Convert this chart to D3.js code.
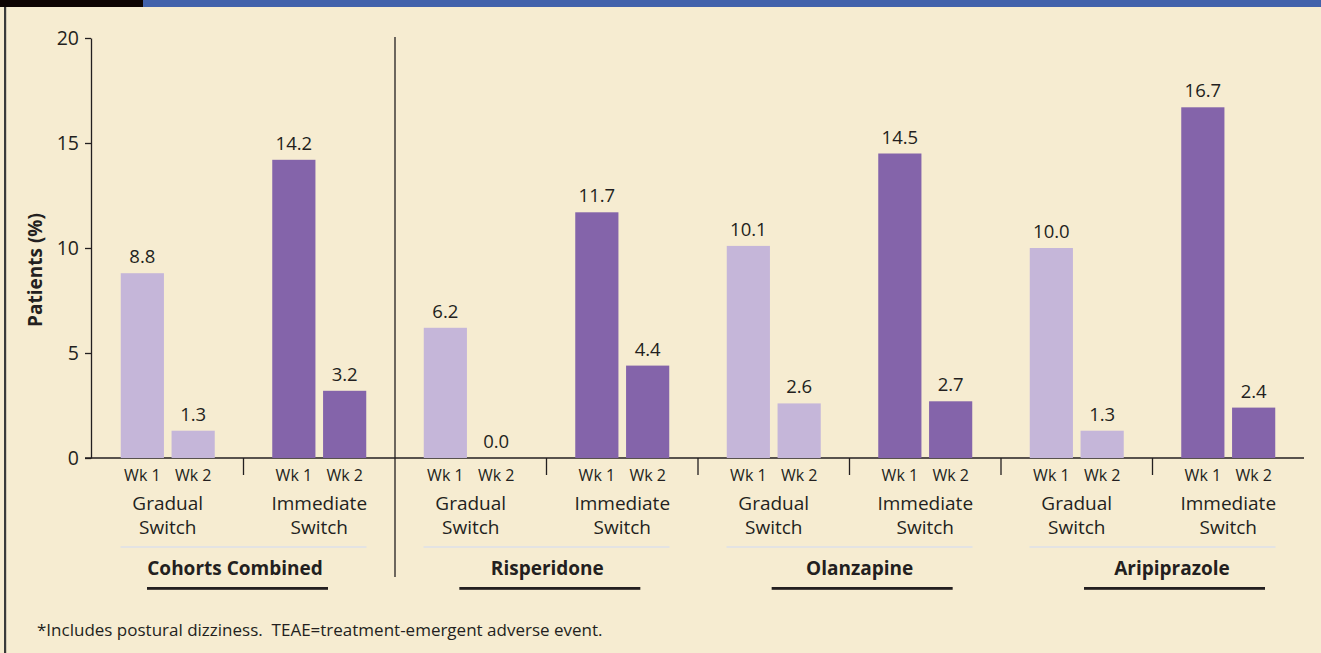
<!DOCTYPE html>
<html>
<head>
<meta charset="utf-8">
<script src="https://cdn.jsdelivr.net/npm/d3@7"></script>
<style>
  html, body { margin: 0; padding: 0; background: #f6ecd1; }
  svg { display: block; }
  text { font-family: "Open Sans", "Noto Sans", sans-serif; fill: #231f20; }
</style>
</head>
<body>
<svg id="chart" width="1321" height="653"></svg>
<script>
// ---- Data ----
const groups = ["Cohorts Combined", "Risperidone", "Olanzapine", "Aripiprazole"];
const switchTypes = ["Gradual", "Immediate"];
const switchLabels = [["Gradual", "Switch"], ["Immediate", "Switch"]];
const weeks = ["Wk 1", "Wk 2"];
const gradualWk1 = [8.8, 6.2, 10.1, 10.0];
const gradualWk2 = [1.3, 0.0, 2.6, 1.3];
const immediateWk1 = [14.2, 11.7, 14.5, 16.7];
const immediateWk2 = [3.2, 4.4, 2.7, 2.4];
const yTicks = [0, 5, 10, 15, 20];
const yLabel = "Patients (%)";
const footnote = "*Includes postural dizziness.  TEAE=treatment-emergent adverse event.";

// ---- Build table ----
const subgroups = [];
groups.forEach((g, gi) => {
  switchTypes.forEach((s, si) => {
    const vals = s === "Gradual" ? [gradualWk1[gi], gradualWk2[gi]] : [immediateWk1[gi], immediateWk2[gi]];
    subgroups.push({ key: g + "|" + s, group: g, gi, si, type: s, values: weeks.map((w, wi) => ({ week: w, value: vals[wi], type: s })) });
  });
});

const svg = d3.select("#chart");
const W = 1321, H = 653;

// background
svg.append("rect").attr("width", W).attr("height", H).attr("fill", "#f6ecd1");
// top bars
svg.append("rect").attr("x", 0).attr("y", 0).attr("width", 143).attr("height", 7).attr("fill", "#0e0503");
svg.append("rect").attr("x", 143).attr("y", 0).attr("width", W - 143).attr("height", 7).attr("fill", "#4262ab");
// left border
svg.append("rect").attr("x", 4).attr("y", 7).attr("width", 2.2).attr("height", H - 7).attr("fill", "#3a3a3a");

// ---- Scales ----
const y = d3.scaleLinear().domain([0, 20]).range([458, 38]);
const x0 = d3.scaleBand().domain(subgroups.map(d => d.key)).range([92, 1304]);
const x1 = d3.scaleBand().domain(weeks).range([-47, 47]).paddingInner(0.15);
const color = d3.scaleOrdinal().domain(switchTypes).range(["#c5b6d9", "#8464aa"]);
const center = k => x0(k) + x0.bandwidth() / 2;

// ---- Y axis ----
const yAxis = d3.axisLeft(y).tickValues(yTicks).tickSize(6).tickSizeOuter(0).tickPadding(6);
const gy = svg.append("g").attr("transform", "translate(91,0)").call(yAxis);
gy.select(".domain").attr("stroke", "#231f20").attr("stroke-width", 1.3);
gy.selectAll(".tick line").attr("stroke", "#231f20").attr("stroke-width", 1.3);
gy.selectAll(".tick text").attr("font-size", 19.5).attr("font-family", "Open Sans").attr("fill", "#231f20");

svg.append("text")
  .attr("transform", "translate(42,270) rotate(-90)")
  .attr("text-anchor", "middle")
  .attr("font-size", 19).attr("font-weight", "bold")
  .text(yLabel);

// ---- X axis line ----
svg.append("line").attr("x1", 85).attr("x2", x0.range()[1]).attr("y1", y(0)).attr("y2", y(0))
  .attr("stroke", "#231f20").attr("stroke-width", 1.3);

// boundary ticks
const boundaries = subgroups.slice(1).map((d, i) => ({ x: x0(d.key), idx: i + 1 }));
boundaries.forEach(b => {
  if (b.idx === 2) {
    svg.append("line").attr("x1", b.x).attr("x2", b.x).attr("y1", y(20) - 1).attr("y2", 577)
      .attr("stroke", "#231f20").attr("stroke-width", 1.3);
  } else {
    svg.append("line").attr("x1", b.x).attr("x2", b.x).attr("y1", y(0)).attr("y2", 475)
      .attr("stroke", "#231f20").attr("stroke-width", 1.3);
  }
});

// ---- Bars ----
const sg = svg.selectAll("g.sub").data(subgroups).join("g")
  .attr("class", "sub")
  .attr("transform", d => `translate(${center(d.key)},0)`);

sg.selectAll("rect").data(d => d.values).join("rect")
  .attr("x", d => x1(d.week))
  .attr("width", x1.bandwidth())
  .attr("y", d => y(d.value))
  .attr("height", d => y(0) - y(d.value))
  .attr("fill", d => color(d.type));

sg.selectAll("text.val").data(d => d.values).join("text")
  .attr("class", "val")
  .attr("x", d => x1(d.week) + x1.bandwidth() / 2)
  .attr("y", d => y(d.value) - 10)
  .attr("text-anchor", "middle")
  .attr("font-size", 18.5)
  .text(d => d3.format(".1f")(d.value));

sg.selectAll("text.wk").data(d => d.values).join("text")
  .attr("class", "wk")
  .attr("x", d => x1(d.week) + x1.bandwidth() / 2)
  .attr("y", 481)
  .attr("text-anchor", "middle")
  .attr("font-size", 16)
  .text(d => d.week);

sg.each(function(d) {
  const g = d3.select(this);
  switchLabels[d.si].forEach((line, li) => {
    g.append("text").attr("x", 0).attr("y", 510 + li * 24)
      .attr("text-anchor", "middle").attr("font-size", 19).text(line);
  });
});

// ---- Group labels ----
const titleX = d3.scaleLinear().domain([0, groups.length - 1]).range([235, 1172]);
groups.forEach((g, gi) => {
  const a = center(subgroups[gi * 2].key), b = center(subgroups[gi * 2 + 1].key);
  const mid = (a + b) / 2;
  svg.append("line").attr("x1", mid - 123).attr("x2", mid + 123).attr("y1", 547).attr("y2", 547)
    .attr("stroke", "#dde1e8").attr("stroke-width", 1.5);
  const tx = titleX(gi);
  svg.append("text").attr("x", tx).attr("y", 575).attr("text-anchor", "middle")
    .attr("font-size", 19).attr("font-weight", "bold").text(g);
  svg.append("rect").attr("x", tx - 88).attr("y", 587).attr("width", 181).attr("height", 2.8)
    .attr("fill", "#231f20");
});

// ---- Footnote ----
svg.append("text").attr("x", 37).attr("y", 636).attr("font-size", 17)
  .style("white-space", "pre").attr("xml:space", "preserve").text(footnote);
</script>
</body>
</html>
